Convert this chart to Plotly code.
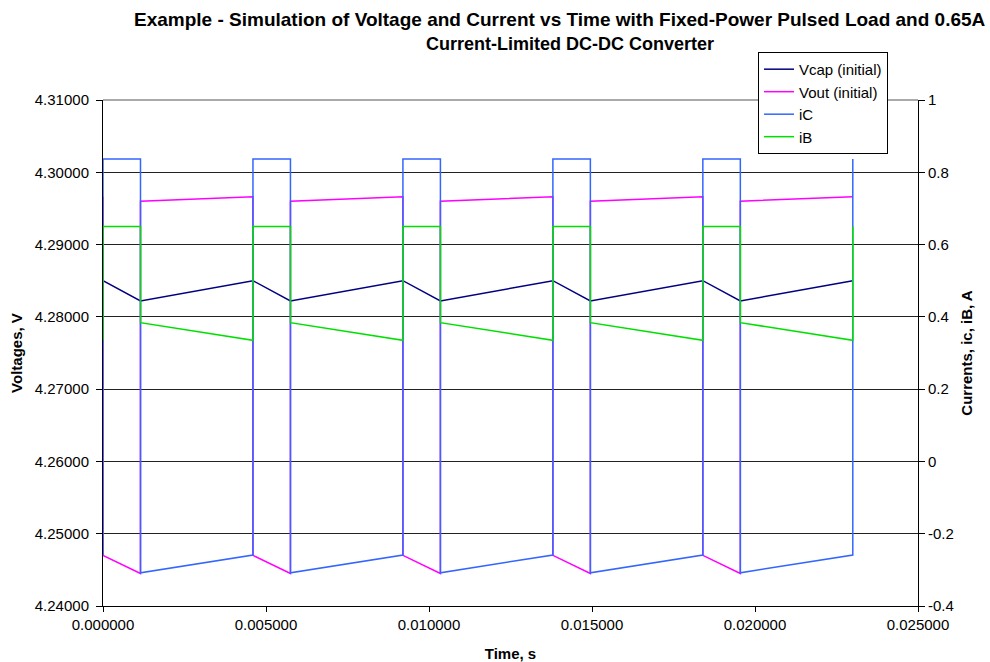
import plotly.graph_objects as go

# Time samples (s): pulse start / pulse end pairs (duplicated for step transitions)
time_s = [0.0, 0.0, 0.00115, 0.00115,
          0.0046, 0.0046, 0.00575, 0.00575,
          0.0092, 0.0092, 0.01035, 0.01035,
          0.0138, 0.0138, 0.01495, 0.01495,
          0.0184, 0.0184, 0.01955, 0.01955,
          0.0230, 0.0230]

vcap = [4.2850, 4.2850, 4.2822, 4.2822,
        4.2850, 4.2850, 4.2822, 4.2822,
        4.2850, 4.2850, 4.2822, 4.2822,
        4.2850, 4.2850, 4.2822, 4.2822,
        4.2850, 4.2850, 4.2822, 4.2822,
        4.2850, 4.2850]

vout = [4.2966, 4.2470, 4.2445, 4.2960,
        4.2966, 4.2470, 4.2445, 4.2960,
        4.2966, 4.2470, 4.2445, 4.2960,
        4.2966, 4.2470, 4.2445, 4.2960,
        4.2966, 4.2470, 4.2445, 4.2960,
        4.2966, 4.2966]

ic = [-0.259, 0.837, 0.837, -0.308,
      -0.259, 0.837, 0.837, -0.308,
      -0.259, 0.837, 0.837, -0.308,
      -0.259, 0.837, 0.837, -0.308,
      -0.259, 0.837, 0.837, -0.308,
      -0.259, 0.837]

ib = [0.335, 0.65, 0.65, 0.384,
      0.335, 0.65, 0.65, 0.384,
      0.335, 0.65, 0.65, 0.384,
      0.335, 0.65, 0.65, 0.384,
      0.335, 0.65, 0.65, 0.384,
      0.335, 0.65]

series_names = ["Vcap (initial)", "Vout (initial)", "iC", "iB"]
right_tick_vals = [-0.4, -0.2, 0, 0.2, 0.4, 0.6, 0.8, 1]
right_tick_text = ["-0.4", "-0.2", "0", "0.2", "0.4", "0.6", "0.8", "1"]

FONT = "Liberation Sans, Arial, sans-serif"

fig = go.Figure()
fig.add_trace(go.Scatter(x=time_s, y=vcap, name=series_names[0], mode="lines",
                         line=dict(color="#000080", width=1.5)))
fig.add_trace(go.Scatter(x=time_s, y=vout, name=series_names[1], mode="lines",
                         line=dict(color="#FF00FF", width=1.5)))
fig.add_trace(go.Scatter(x=time_s, y=ic, name=series_names[2], mode="lines", yaxis="y2",
                         line=dict(color="#3366FF", width=1.5)))
fig.add_trace(go.Scatter(x=time_s, y=ib, name=series_names[3], mode="lines", yaxis="y2",
                         line=dict(color="#00E000", width=1.5)))

fig.update_layout(
    width=990, height=662,
    margin=dict(l=103, r=72, t=100, b=56, autoexpand=False),
    paper_bgcolor="white", plot_bgcolor="white",
    font=dict(family=FONT, size=15, color="black"),
    xaxis=dict(range=[0, 0.025], dtick=0.005, tick0=0, tickformat=".6f",
               showgrid=False, zeroline=False, showline=True, linecolor="black", linewidth=1,
               ticks="outside", ticklen=5, tickcolor="black", automargin=False,
               title=dict(text="<b>Time, s</b>", standoff=18, font=dict(size=15))),
    yaxis=dict(range=[4.24, 4.31], dtick=0.01, tick0=4.24, tickformat=".5f",
               showgrid=True, gridcolor="#222222", gridwidth=1, zeroline=False,
               showline=True, linecolor="black", linewidth=1, automargin=False,
               ticks="outside", ticklen=6, tickcolor="black", ticklabelstandoff=4,
               title=dict(text="<b>Voltages, V</b>", standoff=8, font=dict(size=15))),
    yaxis2=dict(range=[-0.4, 1], overlaying="y", side="right",
                tickmode="array", tickvals=right_tick_vals, ticktext=right_tick_text,
                showgrid=False, zeroline=False, showline=True, linecolor="black", linewidth=1,
                ticks="outside", ticklen=6, tickcolor="black", automargin=False,
                title=dict(text="<b>Currents, ic, iB, A</b>", standoff=8, font=dict(size=15))),
    legend=dict(x=0.8037, y=1.095, xanchor="left", yanchor="top",
                bgcolor="white", bordercolor="black", borderwidth=1,
                font=dict(family=FONT, size=15), tracegroupgap=0, itemwidth=30),
    showlegend=True,
)
fig.add_annotation(text="<b>Example - Simulation of Voltage and Current vs Time with Fixed-Power Pulsed Load and 0.65A</b>",
                   xref="paper", yref="paper", x=(560 - 103) / 815, y=(606 - 19) / 506,
                   xanchor="center", yanchor="middle", showarrow=False,
                   font=dict(family=FONT, size=19, color="black"))
fig.add_annotation(text="<b>Current-Limited DC-DC Converter</b>",
                   xref="paper", yref="paper", x=(570 - 103) / 815, y=(606 - 44) / 506,
                   xanchor="center", yanchor="middle", showarrow=False,
                   font=dict(family=FONT, size=18, color="black"))
fig.add_shape(type="line", xref="paper", yref="paper", x0=0, x1=1, y0=1, y1=1,
              line=dict(color="#555555", width=1))

fig.write_html("out.html")
